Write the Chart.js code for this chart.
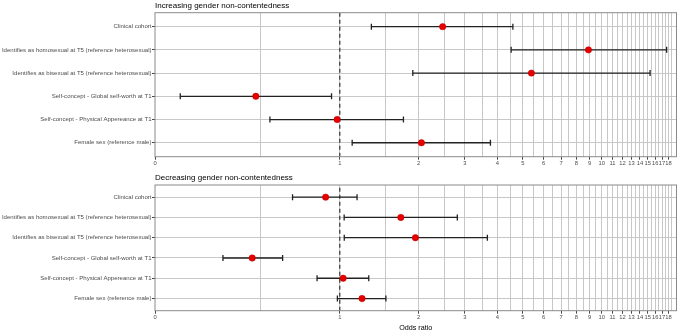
<!DOCTYPE html>
<html>
<head>
<meta charset="utf-8">
<script src="https://cdn.jsdelivr.net/npm/chart.js@4"></script>
<style>
  body { margin:0; background:#fff; }
  #wrap { position:relative; width:685px; height:332px; }
  canvas { position:absolute; left:0; }
</style>
</head>
<body>
<div id="wrap">
  <canvas id="topChart" width="685" height="170" style="top:0"></canvas>
  <canvas id="bottomChart" width="685" height="162" style="top:170px"></canvas>
</div>
<script>
// categories, top to bottom
var categories = ["Clinical cohort",
  "Identifies as homosexual at T5 (reference heterosexual)",
  "Identifies as bisexual at T5 (reference heterosexual)",
  "Self-concept - Global self-worth at T1",
  "Self-concept - Physical Appereance at T1",
  "Female sex (reference male)"];

// increasing gender non-contentedness
var incOR    = [2.47, 8.9, 5.39, 0.478, 0.977, 2.05];
var incLower = [1.32, 4.51, 1.90, 0.246, 0.541, 1.115];
var incUpper = [4.58, 17.7, 15.3, 0.93, 1.75, 3.76];

// decreasing gender non-contentedness
var decOR    = [0.883, 1.71, 1.944, 0.463, 1.03, 1.216];
var decLower = [0.66, 1.039, 1.04, 0.358, 0.819, 0.979];
var decUpper = [1.164, 2.81, 3.66, 0.605, 1.29, 1.50];

// x axis breaks (0 sits at the left edge of the log axis)
var majorTicks = [0,1,2,3,4,5,6,7,8,9,10,11,12,13,14,15,16,17,18];
var minorTicks = [0.5,1.5,2.5,3.5,4.5,5.5,6.5,7.5,8.5,9.5,10.5,11.5,12.5,13.5,14.5,15.5,16.5,17.5,18.5];
var xMin = 0.197, xMax = 19.3;

var FONT = "'Liberation Sans', Arial, sans-serif";

function yPos(i) { return categories.length - i; }

function makeChart(id, title, est, lo, hi, padTop, xHeight, showXTitle) {
  var datasets = [];
  // reference line at OR = 1
  datasets.push({
    type: 'line', data: [{x:1, y:0.4}, {x:1, y:6.6}],
    borderColor: '#333', borderWidth: 1.2, borderDash: [4,3],
    pointRadius: 0, order: 3
  });
  for (var i = 0; i < categories.length; i++) {
    datasets.push({
      type: 'line', data: [{x:lo[i], y:yPos(i)}, {x:hi[i], y:yPos(i)}],
      borderColor: '#222', borderWidth: 1.3,
      pointStyle: 'line', pointRotation: 90, pointRadius: 3,
      pointBorderColor: '#222', pointBorderWidth: 1.3,
      pointHoverRadius: 3, order: 2
    });
  }
  datasets.push({
    type: 'scatter',
    data: est.map(function (v, i) { return {x: v, y: yPos(i)}; }),
    backgroundColor: '#e60000', borderColor: '#c00000', borderWidth: 0.5,
    pointRadius: 3.2, order: 1
  });

  var tickVals = [xMin].concat(minorTicks, majorTicks.slice(1)).sort(function(a,b){return a-b;});

  return new Chart(document.getElementById(id), {
    type: 'scatter',
    data: { datasets: datasets },
    options: {
      responsive: false, animation: false,
      layout: { padding: { top: padTop, right: 8.5, left: 0, bottom: 0 } },
      plugins: { legend: { display: false }, tooltip: { enabled: false }, title: { display: false } },
      scales: {
        x: {
          type: 'logarithmic', min: xMin, max: xMax,
          afterBuildTicks: function (s) { s.ticks = tickVals.map(function (v) { return {value: v}; }); },
          afterFit: function (s) { s.height = xHeight; },
          ticks: {
            autoSkip: false, maxRotation: 0, padding: 0.5,
            color: '#4d4d4d', font: { family: FONT, size: 5.8 },
            callback: function (v) {
              if (v === xMin) return '0';
              return majorTicks.indexOf(v) >= 0 ? String(v) : '';
            }
          },
          grid: {
            color: function (c) { return (c.tick && c.tick.value === xMin) ? 'rgba(0,0,0,0)' : '#c2c2c2'; },
            lineWidth: 0.9, tickLength: 3,
            tickColor: function (c) {
              var v = c.tick ? c.tick.value : null;
              return (v === xMin || majorTicks.indexOf(v) >= 0) ? '#333' : 'rgba(0,0,0,0)';
            }
          },
          border: { display: false },
          title: { display: showXTitle, text: 'Odds ratio', color: '#000', font: { family: FONT, size: 7.2 }, padding: { top: 3, bottom: 0 } }
        },
        y: {
          type: 'linear', min: 0.4, max: 6.6,
          afterBuildTicks: function (s) { s.ticks = [1,2,3,4,5,6].map(function (v) { return {value: v}; }); },
          afterFit: function (s) { s.width = 155; },
          ticks: {
            padding: 0.5, color: '#4d4d4d', font: { family: FONT, size: 6.05 },
            callback: function (v) { return categories[categories.length - v]; }
          },
          grid: { color: '#c2c2c2', lineWidth: 0.9, tickLength: 3, tickColor: '#333' },
          border: { display: false }
        }
      }
    },
    plugins: [{
      id: 'frame',
      afterDraw: function (chart) {
        var a = chart.chartArea, ctx = chart.ctx;
        ctx.save();
        ctx.strokeStyle = '#8a8a8a'; ctx.lineWidth = 1;
        ctx.strokeRect(a.left, a.top, a.right - a.left, a.bottom - a.top);
        ctx.fillStyle = '#000';
        ctx.font = '8px ' + FONT;
        ctx.textBaseline = 'middle';
        ctx.fillText(title, a.left, a.top - 6.8);
        ctx.restore();
      }
    }]
  });
}

makeChart('topChart', 'Increasing gender non-contentedness', incOR, incLower, incUpper, 12.7, 13.3, false);
makeChart('bottomChart', 'Decreasing gender non-contentedness', decOR, decLower, decUpper, 15, 21.3, true);
</script>
</body>
</html>
